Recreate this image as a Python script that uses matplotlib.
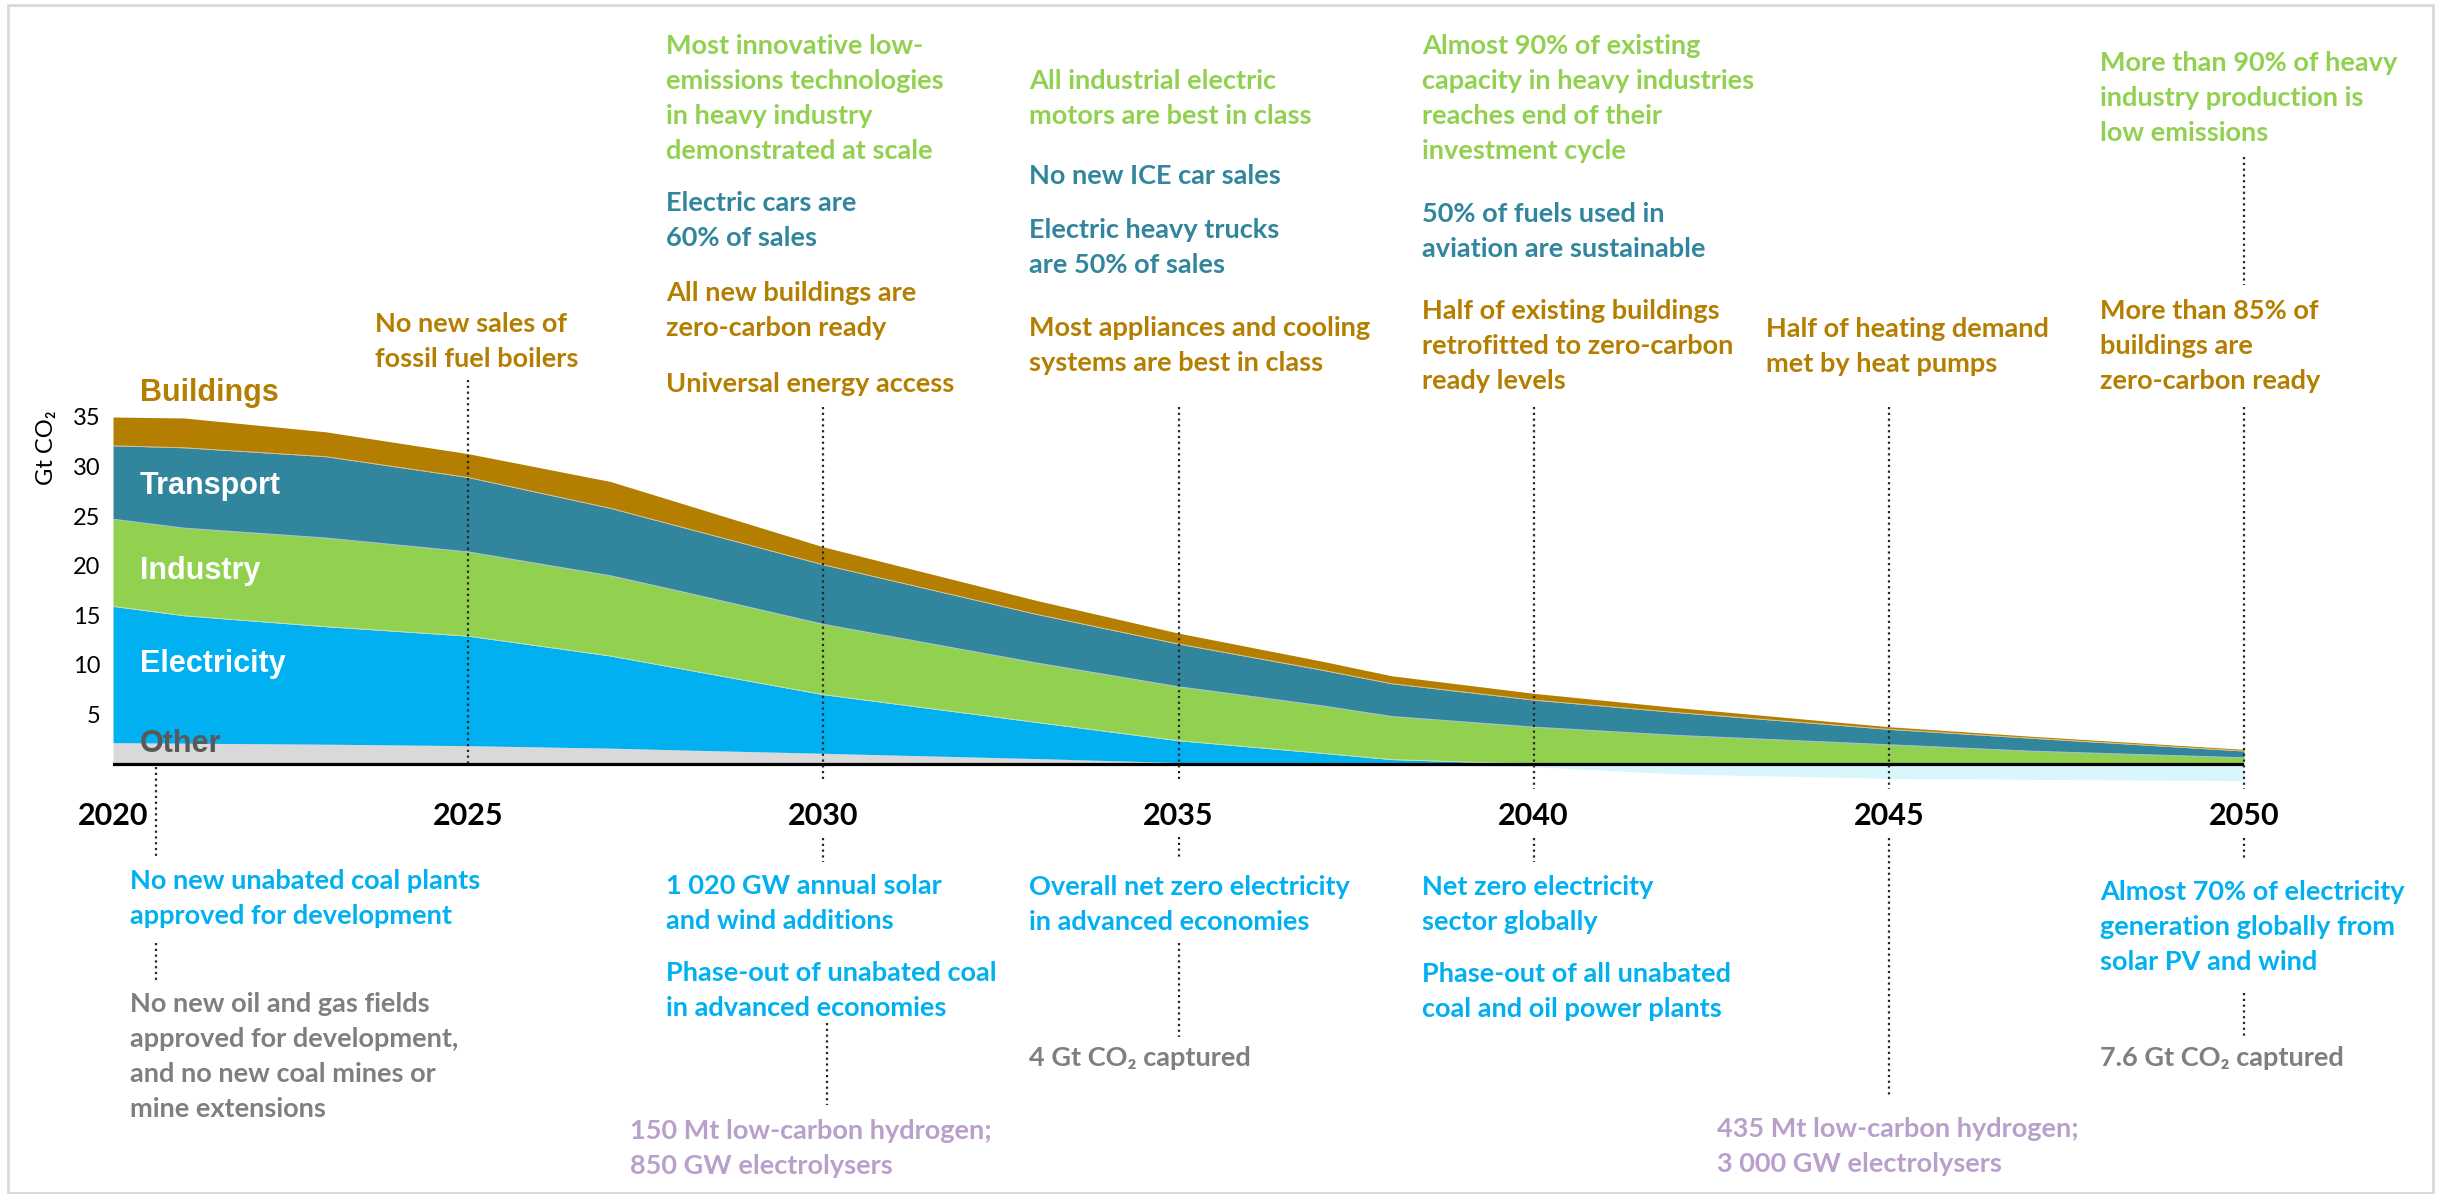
import numpy as np
import matplotlib.pyplot as plt
from matplotlib.transforms import blended_transform_factory
from matplotlib.patches import Rectangle

W, H = 2438, 1194

# CO2 emissions by sector, Gt CO2
years = [2020, 2021, 2023, 2025, 2027, 2028, 2030, 2033, 2035, 2037, 2038, 2040, 2042, 2045, 2047, 2050]
other = [2.15, 2.1, 2.0, 1.85, 1.6, 1.42, 1.08, 0.55, 0.15, 0.05, 0.0, 0.0, 0.0, 0.0, 0.0, 0.0]
electricity = [13.75, 12.86, 11.85, 11.05, 9.3, 8.18, 5.92, 3.65, 2.2, 1.05, 0.45, -0.27, -1.0, -1.45, -1.55, -1.68]
industry = [8.8, 8.84, 8.95, 8.5, 8.1, 7.8, 7.1, 6.0, 5.45, 4.8, 4.35, 3.73, 2.9, 1.95, 1.3, 0.64]
transport = [7.4, 8.1, 8.2, 7.5, 6.8, 6.5, 6.0, 4.9, 4.3, 3.6, 3.3, 2.72, 2.3, 1.55, 1.3, 0.67]
buildings = [2.9, 3.0, 2.5, 2.4, 2.7, 2.4, 1.8, 1.4, 1.1, 0.9, 0.8, 0.68, 0.5, 0.26, 0.2, 0.17]

y_ticks = [5, 10, 15, 20, 25, 30, 35]
x_ticks = [2020, 2025, 2030, 2035, 2040, 2045, 2050]

GREEN = '#92d050'
TEAL = '#31859c'
BROWN = '#b47f00'
BLUE = '#00b0f0'
GREY = '#7f7f7f'
PURPLE = '#b9a0cc'

# milestone texts: (x px, y px of first line, colour, lines)
notes = [
    (375, 323, BROWN, ["No new sales of", "fossil fuel boilers"]),
    (666, 45, GREEN, ["Most innovative low-", "emissions technologies", "in heavy industry", "demonstrated at scale"]),
    (666, 202, TEAL, ["Electric cars are", "60% of sales"]),
    (666, 292, BROWN, ["All new buildings are", "zero-carbon ready"]),
    (666, 383, BROWN, ["Universal energy access"]),
    (1029, 80, GREEN, ["All industrial electric", "motors are best in class"]),
    (1029, 175, TEAL, ["No new ICE car sales"]),
    (1029, 229, TEAL, ["Electric heavy trucks", "are 50% of sales"]),
    (1029, 327, BROWN, ["Most appliances and cooling", "systems are best in class"]),
    (1422, 45, GREEN, ["Almost 90% of existing", "capacity in heavy industries", "reaches end of their", "investment cycle"]),
    (1422, 213, TEAL, ["50% of fuels used in", "aviation are sustainable"]),
    (1422, 310, BROWN, ["Half of existing buildings", "retrofitted to zero-carbon", "ready levels"]),
    (1766, 328, BROWN, ["Half of heating demand", "met by heat pumps"]),
    (2100, 62, GREEN, ["More than 90% of heavy", "industry production is", "low emissions"]),
    (2100, 310, BROWN, ["More than 85% of", "buildings are", "zero-carbon ready"]),
    (130, 880, BLUE, ["No new unabated coal plants", "approved for development"]),
    (130, 1003, GREY, ["No new oil and gas fields", "approved for development,", "and no new coal mines or", "mine extensions"]),
    (666, 885, BLUE, ["1 020 GW annual solar", "and wind additions"]),
    (666, 972, BLUE, ["Phase-out of unabated coal", "in advanced economies"]),
    (630, 1130, PURPLE, ["150 Mt low-carbon hydrogen;", "850 GW electrolysers"]),
    (1029, 886, BLUE, ["Overall net zero electricity", "in advanced economies"]),
    (1029, 1057, GREY, ["4 Gt CO\u2082 captured"]),
    (1422, 886, BLUE, ["Net zero electricity", "sector globally"]),
    (1422, 973, BLUE, ["Phase-out of all unabated", "coal and oil power plants"]),
    (1717, 1128, PURPLE, ["435 Mt low-carbon hydrogen;", "3 000 GW electrolysers"]),
    (2100, 891, BLUE, ["Almost 70% of electricity", "generation globally from", "solar PV and wind"]),
    (2100, 1057, GREY, ["7.6 Gt CO\u2082 captured"]),
]

# dotted leader lines: (year, y px start, y px end)
leaders = [
    (2025, 380, 764), (2030, 407, 780), (2035, 407, 780), (2040, 407, 789),
    (2045, 407, 789), (2050, 407, 789), (2050, 157, 285),
    (2020.6, 767, 858), (2020.6, 943, 980),
    (2030, 838, 862), (2030.05, 1023, 1105),
    (2035, 837, 858), (2035, 943, 1037),
    (2040, 838, 862), (2045, 838, 1096),
    (2050, 838, 860), (2050, 993, 1037),
]

FONT = ['Lato', 'DejaVu Sans']

fig = plt.figure(figsize=(W / 100, H / 100), dpi=100)
ymin, ymax = -3, 37
px_per_unit = (764 - 417) / 35
bottom_px = 764 - ymin * px_per_unit
top_px = 764 - ymax * px_per_unit
ax = fig.add_axes([113 / W, 1 - bottom_px / H, (2244 - 113) / W, (bottom_px - top_px) / H])

yrs = np.array(years)
oth = np.array(other)
ele = np.array(electricity)
ele_pos = np.clip(ele, 0, None)
ele_neg = np.clip(ele, None, 0)
s1 = oth
s2 = s1 + ele_pos
s3 = s2 + np.array(industry)
s4 = s3 + np.array(transport)
s5 = s4 + np.array(buildings)

ax.fill_between(yrs, ele_neg, 0, color='#d9f6fd', lw=0)
ax.fill_between(yrs, 0, s1, color='#d9d9d9', lw=0)
ax.fill_between(yrs, s1, s2, color=BLUE, lw=0)
ax.fill_between(yrs, s2, s3, color=GREEN, lw=0)
ax.fill_between(yrs, s3, s4, color=TEAL, lw=0)
ax.fill_between(yrs, s4, s5, color=BROWN, lw=0)
for s in (s2, s3, s4):
    ax.plot(yrs, s, color='#e6e6e6', lw=0.6, alpha=0.7)
ax.axhline(0, color='black', lw=2.3, zorder=5)

ax.set_xlim(2020, 2050)
ax.set_ylim(ymin, ymax)
for sp in ax.spines.values():
    sp.set_visible(False)
ax.set_yticks(y_ticks)
ax.set_yticklabels([str(t) for t in y_ticks], family=FONT, fontsize=17)
ax.set_xticks(x_ticks)
ax.set_xticklabels([str(t) for t in x_ticks], family=FONT, fontsize=22, fontweight='bold')
ax.tick_params(axis='y', length=0, pad=9)
ax.tick_params(axis='x', length=0, pad=6)
ax.patch.set_alpha(0)

blend = blended_transform_factory(ax.transData, fig.transFigure)
for yr, y0, y1 in leaders:
    ax.plot([yr, yr], [1 - y0 / H, 1 - y1 / H], transform=blend, clip_on=False,
            color='#262626', lw=1.6, linestyle=(0, (1, 1.6)), zorder=6)

# sector labels
for label, y, col in [("Buildings", 393, BROWN), ("Transport", 486, 'white'),
                      ("Industry", 571, 'white'), ("Electricity", 664, 'white'),
                      ("Other", 744, '#595959')]:
    fig.text(140 / W, 1 - y / H, label, color=col, fontsize=22, fontweight='bold',
             family='Liberation Sans', va='center', ha='left')

fig.text(46 / W, 1 - 448 / H, "Gt CO\u2082", rotation=90, fontsize=17, family=FONT,
         va='center', ha='center')

for x, y, col, lines in notes:
    for i, line in enumerate(lines):
        fig.text(x / W, 1 - (y + 9 + i * 35) / H, line, color=col, fontsize=19.5,
                 fontweight='bold', family=FONT, va='baseline', ha='left')

fig.patches.append(Rectangle((8 / W, 1 - 1193 / H), (2433 - 8) / W, (1193 - 5) / H,
                             transform=fig.transFigure, fill=False,
                             edgecolor='#d9d9d9', lw=2))

fig.savefig("out.png", dpi=100)
